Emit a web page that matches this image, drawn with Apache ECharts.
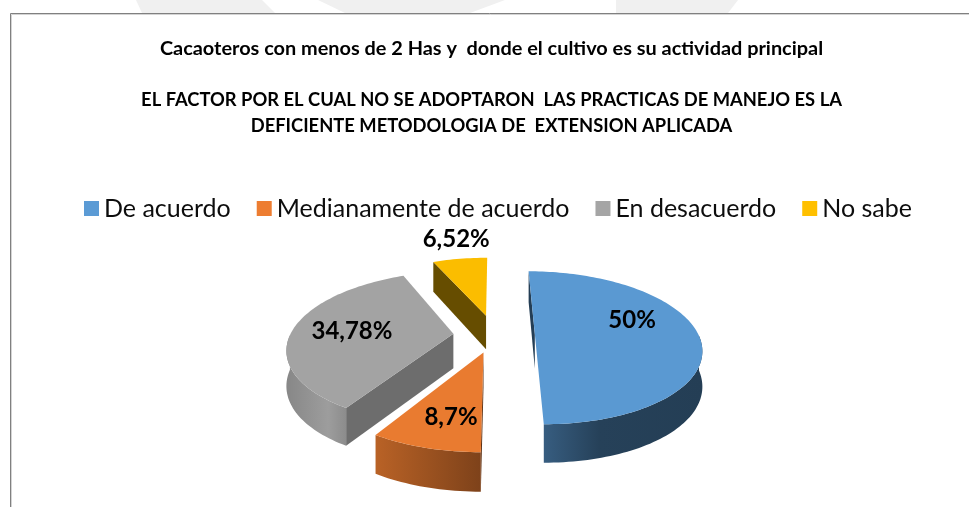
<!DOCTYPE html>
<html><head><meta charset="utf-8">
<style>html,body{margin:0;padding:0;background:#fff}#c{width:969px;height:507px}</style>
<script src="https://cdn.jsdelivr.net/npm/echarts@6/dist/echarts.min.js"></script>
</head><body><div id="c"></div>
<script>
var categories = ["De acuerdo", "Medianamente de acuerdo", "En desacuerdo", "No sabe"];
var values = [50, 8.7, 34.78, 6.52];
var valueLabels = ["50%", "8,7%", "34,78%", "6,52%"];
var colors = ["#5B9BD5", "#ED7D31", "#A5A5A5", "#FFC000"];
var titleLines = [
  "Cacaoteros con menos de 2 Has y  donde el cultivo es su actividad principal",
  "EL FACTOR POR EL CUAL NO SE ADOPTARON  LAS PRACTICAS DE MANEJO ES LA",
  "DEFICIENTE METODOLOGIA DE  EXTENSION APLICADA"
];

// projection of the tilted pie plane onto the screen
var P = {x0: 494, y0: 333, A: 163.3, B: 74, p: 0.18, explode: 0.25, d0: 34.5, d1: 4};
// small per-slice screen adjustments of the exploded position
var nudge = [[0, 1], [1, 1], [0, 2], [0, 0]];
// label anchors in pie-plane units
var labelUV = [[0.873, 0.181], [-0.2186, -0.9425], [-0.874, 0.027], [-0.30, 1.646]];

function proj(u, v) {
  var w = 1 + P.p * v;
  return [P.x0 + P.A * u / w, P.y0 - P.B * v / w];
}
function depth(v) { return P.d0 - P.d1 * v; }
function shade(hex, k) {
  var n = parseInt(hex.slice(1), 16);
  return 'rgb(' + [(n >> 16) & 255, (n >> 8) & 255, n & 255].map(function (c) { return Math.round(c * k); }).join(',') + ')';
}
var total = values.reduce(function (a, b) { return a + b; }, 0);

function sliceItem(idx) {
  return function (params, api) {
    var before = 0;
    for (var i = 0; i < idx; i++) before += values[i];
    var val = api.value(0);
    var a0 = before / total * 2 * Math.PI, a1 = (before + val) / total * 2 * Math.PI;
    var mid = (a0 + a1) / 2;
    var cu = P.explode * Math.sin(mid), cv = P.explode * Math.cos(mid);
    var steps = Math.max(8, Math.round((a1 - a0) * 40));
    var n = nudge[idx];
    function pp(u, v) { var q = proj(u, v); return [q[0] + n[0], q[1] + n[1]]; }
    var arc = [], wallTop = [], wallBottom = [];
    for (var s = 0; s <= steps; s++) {
      var t = a0 + (a1 - a0) * s / steps;
      var u = cu + Math.sin(t), v = cv + Math.cos(t);
      var q = pp(u, v);
      arc.push(q);
      if (Math.cos(t) <= 0) {   // only the part of the rim that faces the viewer
        wallTop.push(q);
        wallBottom.push([q[0], q[1] + depth(v)]);
      }
    }
    var apex = pp(cu, cv), apexB = [apex[0], apex[1] + depth(cv)];
    var first = arc[0];
    var firstB = [first[0], first[1] + depth(cv + Math.cos(a0))];
    var col = colors[idx];
    var kids = [];
    function poly(pts, fill, z) {
      kids.push({type: 'polygon', z2: z, shape: {points: pts}, style: {fill: fill, stroke: null}});
    }
    // radial inner wall on the first edge of the slice
    poly([apex, first, firstB, apexB], shade(col, idx === 2 ? 0.66 : 0.4), 0);
    // outer wall
    if (wallTop.length > 1) {
      var minX = Infinity, maxX = -Infinity;
      wallTop.forEach(function (q) { minX = Math.min(minX, q[0]); maxX = Math.max(maxX, q[0]); });
      var grad = {type: 'linear', x: minX, y: 0, x2: maxX, y2: 0, global: true, colorStops: idx === 0
        ? [{offset: 0, color: shade(col, 0.6)}, {offset: 0.35, color: shade(col, 0.42)}, {offset: 1, color: shade(col, 0.4)}]
        : idx === 1
        ? [{offset: 0, color: shade(col, 0.78)}, {offset: 1, color: shade(col, 0.53)}]
        : [{offset: 0, color: shade(col, 0.82)}, {offset: 0.7, color: shade(col, 0.95)}, {offset: 1, color: shade(col, 0.85)}]};
      poly(wallTop.concat(wallBottom.slice().reverse()), grad, 1);
    }
    // top face
    poly([apex].concat(arc), shade(col, 0.985), 3);
    // value label
    var lp = proj(labelUV[idx][0], labelUV[idx][1]);
    kids.push({type: 'text', z2: 5, x: lp[0], y: lp[1], style: {
      text: valueLabels[idx], x: 0, y: 0, align: 'center', verticalAlign: 'middle',
      font: 'bold 24px Lato', fill: '#000'
    }});
    return {type: 'group', children: kids};
  };
}

var option = {
  backgroundColor: '#fff',
  animation: false,
  title: titleLines.map(function (t, i) {
    return {text: t, left: 491.5, top: [49, 100, 126][i], padding: 0, textAlign: 'center', textVerticalAlign: 'middle',
      textStyle: {fontFamily: 'Lato', fontWeight: 'bold', fontSize: [19.9, 18.35, 18.35][i], color: '#000'}};
  }),
  legend: {
    data: categories, top: 196, left: 84, padding: 0, icon: 'rect', itemWidth: 15, itemHeight: 15, itemGap: 26, itemTextGap: 6,
    textStyle: {fontFamily: 'Lato', fontSize: 25, color: '#0d0d0d'}
  },
  graphic: [
    {type: 'polygon', silent: true, z: -1, shape: {points: [[136, 0], [262, 0], [275, 13], [142, 13]]}, style: {fill: '#f0f0f0'}},
    {type: 'polygon', silent: true, z: -1, shape: {points: [[318, 0], [505, 0], [470, 13], [345, 13]]}, style: {fill: '#f0f0f0'}},
    {type: 'polygon', silent: true, z: -1, shape: {points: [[616, 0], [738, 0], [728, 13], [616, 13]]}, style: {fill: '#f0f0f0'}},
    {type: 'polyline', silent: true, shape: {points: [[11.5, 507], [11.5, 14.5], [969, 14.5]]},
     style: {stroke: '#d4d4d4', lineWidth: 1, fill: null}},
    {type: 'polyline', silent: true, shape: {points: [[10.5, 507], [10.5, 13.5], [969, 13.5]]},
     style: {stroke: '#808080', lineWidth: 1, fill: null}}
  ],
  series: categories.map(function (name, i) {
    return {type: 'custom', name: name, coordinateSystem: 'none', renderItem: sliceItem(i),
      itemStyle: {color: colors[i]}, data: [[values[i]]], silent: true};
  })
};
echarts.init(document.getElementById('c'), null, {renderer: 'canvas'}).setOption(option);
</script></body></html>
